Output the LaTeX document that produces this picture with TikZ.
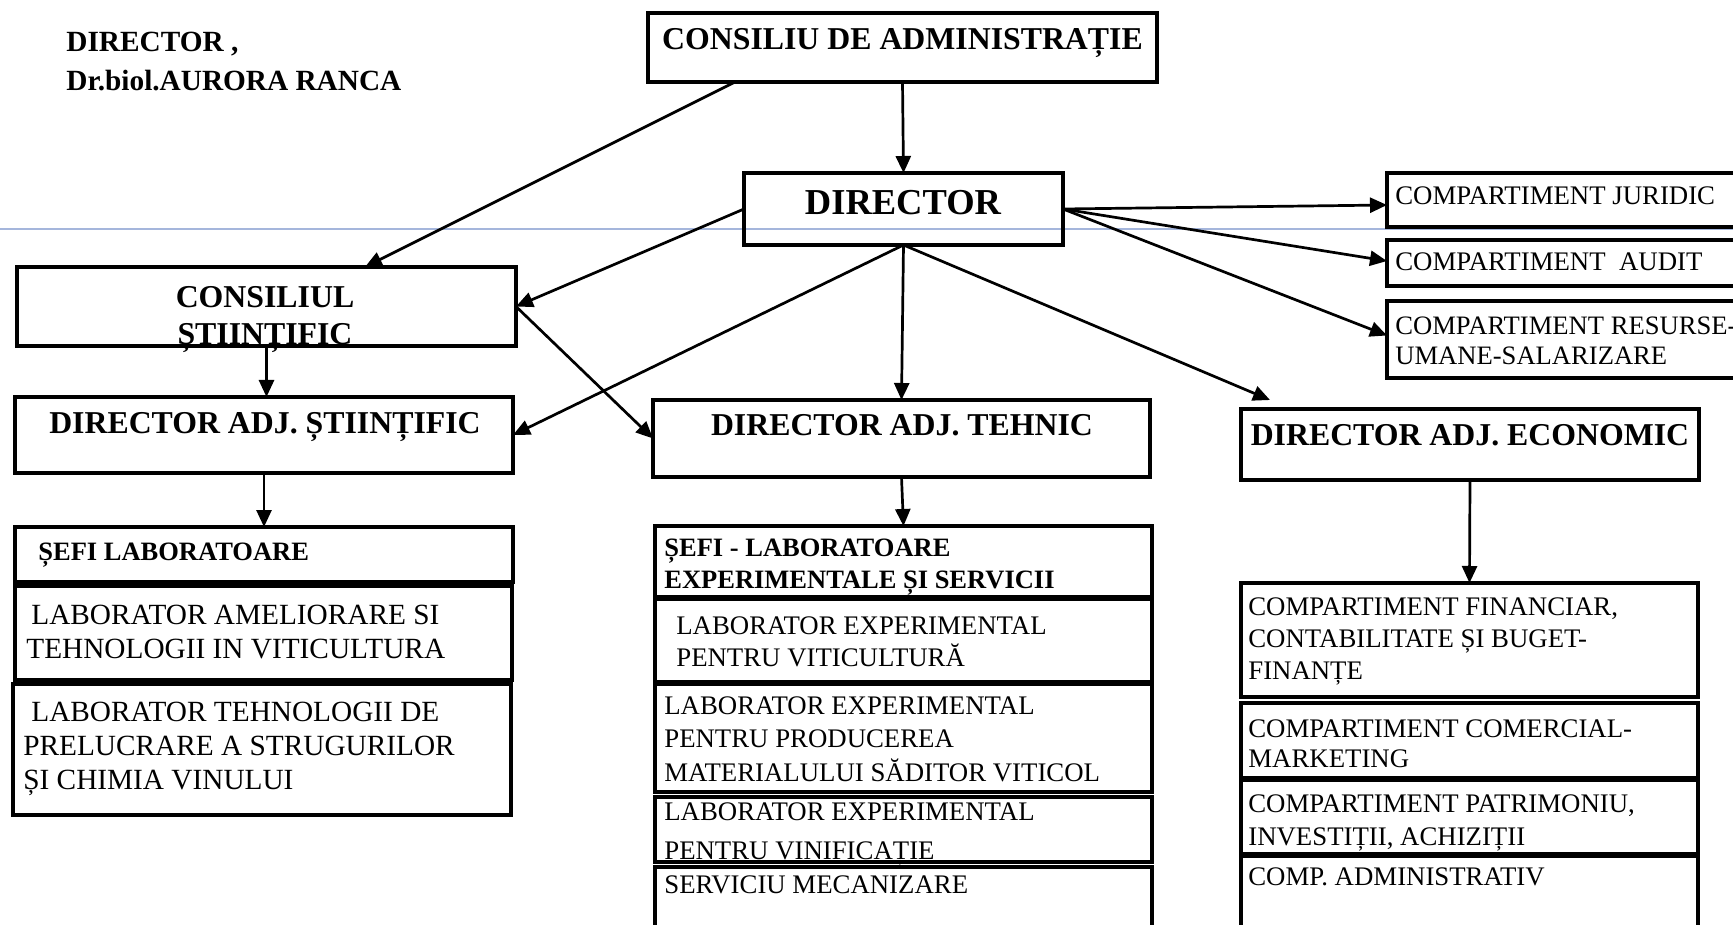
\documentclass[tikz,border=0pt]{standalone}
\usepackage{fontspec}
\setmainfont{Liberation Serif}
\usetikzlibrary{arrows.meta}

\definecolor{scanblue}{RGB}{165,182,220}

\tikzset{
  box/.style={draw, line width=3.2pt, inner sep=0pt, outer sep=0pt, anchor=north west},
  head/.style={inner sep=0pt, font=\bfseries\fontsize{31.8}{37}\selectfont},
  subtxt/.style={inner sep=0pt, anchor=north west, align=left, font=\bfseries\fontsize{26.5}{32}\selectfont},
  labtxt/.style={inner sep=0pt, anchor=north west, align=left, font=\fontsize{26.8}{32}\selectfont}
}

\begin{document}
\begin{tikzpicture}[x=1pt, y=-1pt, line width=2.7pt, >={Triangle[length=17pt,width=15pt]}]
  \clip (0,0) rectangle (1733,925);
  \fill[white] (0,0) rectangle (1733,925);
  \draw[line width=1.2pt, scanblue] (0,229) -- (1733,229); % scan guide line

  \node[anchor=north west, align=left, inner sep=0pt, font=\bfseries\fontsize{29.3}{39}\selectfont] (sig) at (65,31) {DIRECTOR ,\\Dr.biol.AURORA RANCA};

  % boxes
  \node[box, minimum width=509, minimum height=69] (cda) at (648,13) {};
  \node[box, minimum width=319, minimum height=72] (dir) at (744,173) {};
  \node[box, minimum width=499, minimum height=79] (cs) at (17,267) {};
  \node[box, minimum width=498, minimum height=76] (das) at (15,397) {};
  \node[box, minimum width=497, minimum height=77] (dat) at (653,400) {};
  \node[box, minimum width=458, minimum height=71] (dae) at (1241,409) {};
  \node[box, minimum width=360, minimum height=54] (jur) at (1387,173) {};
  \node[box, minimum width=360, minimum height=46] (aud) at (1387,240) {};
  \node[box, minimum width=360, minimum height=77] (rum) at (1387,301) {};
  \node[box, minimum width=498, minimum height=55] (sefs) at (15,527) {};
  \node[box, minimum width=497, minimum height=94] (lam) at (15,586) {};
  \node[box, minimum width=498, minimum height=131] (lteh) at (13,684) {};
  \node[box, minimum width=497, minimum height=71] (sefe) at (655,526) {};
  \node[box, minimum width=497, minimum height=83] (lvit) at (655,599) {};
  \node[box, minimum width=497, minimum height=108] (lmat) at (655,684) {};
  \node[box, minimum width=497, minimum height=65] (lvin) at (655,797) {};
  \node[box, minimum width=497, minimum height=80] (smec) at (655,867) {};
  \node[box, minimum width=457, minimum height=114] (cfin) at (1241,583) {};
  \node[box, minimum width=457, minimum height=75] (ccom) at (1241,703) {};
  \node[box, minimum width=457, minimum height=74] (cpat) at (1241,780) {};
  \node[box, minimum width=457, minimum height=90] (cadm) at (1241,856) {};

  % texts
  \node[head, anchor=base] (cda-t) at (902.5,50) {CONSILIU DE ADMINISTRAȚIE};
  \node[anchor=base, inner sep=0pt, font=\bfseries\fontsize{36.5}{40}\selectfont] (dir-t) at (903,215) {DIRECTOR};
  \node[head, anchor=north, align=center] (cs-t) at (265,285) {CONSILIUL\\ȘTIINȚIFIC};
  \node[head, anchor=base] (das-t) at (265,433) {DIRECTOR ADJ. ȘTIINȚIFIC};
  \node[head, anchor=base] (dat-t) at (902,435) {DIRECTOR ADJ. TEHNIC};
  \node[head, anchor=base] (dae-t) at (1470,445) {DIRECTOR ADJ. ECONOMIC};
  \node[labtxt, anchor=base west] (jur-t) at (1394,205) {COMPARTIMENT JURIDIC};
  \node[labtxt, anchor=base west] (aud-t) at (1394,271) {COMPARTIMENT\ \ AUDIT};
  \node[labtxt, font=\fontsize{26.6}{30}\selectfont] (rum-t) at (1394,316) {COMPARTIMENT RESURSE-\\UMANE-SALARIZARE};
  \node[subtxt, anchor=base west] (sefs-t) at (37,560) {ȘEFI LABORATOARE};
  \node[labtxt, font=\fontsize{29.3}{34}\selectfont] (lam-t) at (25,604) {\hspace*{5pt}LABORATOR AMELIORARE SI\\TEHNOLOGII IN VITICULTURA};
  \node[labtxt, font=\fontsize{29.3}{34}\selectfont] (lteh-t) at (22,701) {\hspace*{8pt}LABORATOR TEHNOLOGII DE\\PRELUCRARE A STRUGURILOR\\ȘI CHIMIA VINULUI};
  \node[subtxt] (sefe-t) at (663,538) {ȘEFI - LABORATOARE\\EXPERIMENTALE ȘI SERVICII};
  \node[labtxt] (lvit-t) at (675,615) {LABORATOR EXPERIMENTAL\\PENTRU VITICULTURĂ};
  \node[labtxt, font=\fontsize{26.8}{33.5}\selectfont] (lmat-t) at (663,695) {LABORATOR EXPERIMENTAL\\PENTRU PRODUCEREA\\MATERIALULUI SĂDITOR VITICOL};
  \node[labtxt, font=\fontsize{26.8}{39}\selectfont] (lvin-t) at (663,801) {LABORATOR EXPERIMENTAL\\PENTRU VINIFICAȚIE};
  \node[labtxt, anchor=base west] (smec-t) at (663,893) {SERVICIU MECANIZARE};
  \node[labtxt] (cfin-t) at (1247,596) {COMPARTIMENT FINANCIAR,\\CONTABILITATE ȘI BUGET-\\FINANȚE};
  \node[labtxt, font=\fontsize{26.8}{30}\selectfont] (ccom-t) at (1247,718) {COMPARTIMENT COMERCIAL-\\MARKETING};
  \node[labtxt, font=\fontsize{26.8}{33}\selectfont] (cpat-t) at (1247,793) {COMPARTIMENT PATRIMONIU,\\INVESTIȚII, ACHIZIȚII};
  \node[labtxt, anchor=base west] (cadm-t) at (1247,885) {COMP. ADMINISTRATIV};

  % connectors
  \draw[->] ([xshift=87]cda.south west) to ([xshift=348]cs.north west);
  \draw[->] (cda.south) to (dir.north);
  \draw[->] (dir.west) to (cs.east);
  \draw[->] (dir.south) to (das.east);
  \draw[->] (dir.south) to (dat.north);
  \draw[->] (dir.south) to ([xshift=29,yshift=9]dae.north west);
  \draw[->] (dir.east) to ([yshift=-5]jur.west);
  \draw[->] (dir.east) to ([yshift=2]aud.west);
  \draw[->] (dir.east) to ([yshift=4]rum.west);
  \draw[->] (cs.east) to (dat.west);
  \draw[->] (cs.south) to (cs.south |- das.north);
  \draw[->] (das.south) to (sefs.north);
  \draw[->] (dat.south) to (sefe.north);
  \draw[->] (dae.south) to (cfin.north);
\end{tikzpicture}
\end{document}
